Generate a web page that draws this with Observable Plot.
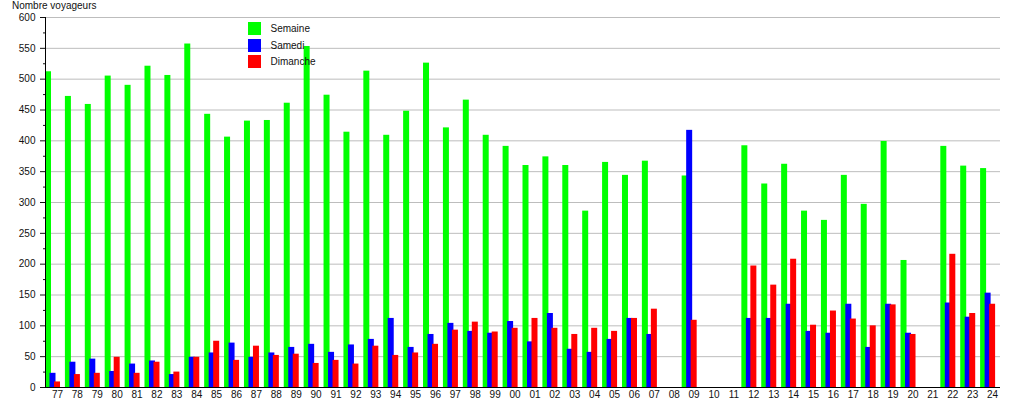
<!DOCTYPE html>
<html>
<head>
<meta charset="utf-8">
<script src="https://cdn.jsdelivr.net/npm/d3@7"></script>
<script src="https://cdn.jsdelivr.net/npm/@observablehq/plot@0.6"></script>
<style>
  body { margin: 0; background: #fff; }
  #wrap { position: relative; width: 1015px; height: 400px; font-family: "Liberation Sans", Arial, sans-serif; color: #111; }
  #title { position: absolute; left: 12px; top: 0px; font-size: 10px; }
  #legend { position: absolute; left: 248px; top: 22px; font-size: 10px; }
  .item { display: flex; align-items: center; height: 13px; margin-bottom: 3.7px; }
  .sw { width: 13px; height: 13px; margin-right: 9.5px; }
</style>
</head>
<body>
<div id="wrap">
  <div id="chart"></div>
  <div id="title">Nombre voyageurs</div>
  <div id="legend"></div>
</div>
<script>
const years = ["77","78","79","80","81","82","83","84","85","86","87","88","89","90","91","92","93","94","95","96","97","98","99",
  "00","01","02","03","04","05","06","07","08","09","10","11","12","13","14","15","16","17","18","19","20","21","22","23","24"];
const seriesNames = ["Semaine", "Samedi", "Dimanche"];
const seriesColors = ["#00ff00", "#0000ff", "#ff0000"];
const semaine = [512,472,459,505,490,521,506,557,443,406,432,433,461,553,474,414,513,409,448,526,421,466,409,
  391,360,374,360,286,365,344,367,null,343,null,null,392,330,362,286,271,344,297,399,206,null,391,359,355];
const samedi = [23,41,46,26,38,43,21,49,56,72,49,56,65,70,57,69,78,112,65,86,104,91,88,
  107,74,120,62,57,78,112,86,null,417,null,null,112,112,135,91,88,135,65,135,88,null,137,114,153];
const dimanche = [9,21,23,49,23,41,25,49,75,44,67,52,54,39,44,38,67,52,56,70,93,106,90,
  96,112,96,86,96,91,112,127,null,109,null,null,197,166,208,101,124,111,100,134,86,null,216,120,135];
const yTicks = [0,50,100,150,200,250,300,350,400,450,500,550,600];
const yMinorTicks = [25,75,125,175,225,275,325,375,425,475,525,575];

const seriesValues = [semaine, samedi, dimanche];
const rows = seriesValues.map((vals, s) =>
  years.map((year, i) => ({year, series: seriesNames[s], value: vals[i]})).filter(d => d.value != null));

const W = 1015, ML = 45, MR = 15;
const step = (W - ML - MR) / years.length;
const barW = 6;
const offsets = [0, 4.5, 9];

const plot = Plot.plot({
  width: W,
  height: 400,
  marginLeft: ML,
  marginRight: MR,
  marginTop: 17,
  marginBottom: 13,
  style: {fontFamily: "'Liberation Sans', Arial, sans-serif", fontSize: "10px", color: "#111", background: "#fff"},
  x: {domain: years, padding: 0, label: null},
  y: {domain: [0, 600], label: null},
  marks: [
    Plot.gridY(yTicks, {stroke: "#bdbdbd", strokeOpacity: 1}),
    ...rows.map((r, s) => Plot.barY(r, {
      x: "year", y: "value", fill: seriesColors[s],
      insetLeft: 0, insetRight: step - barW, dx: offsets[s]
    })),
    Plot.ruleY([0], {stroke: "#000"}),
    Plot.ruleX([years[0]], {y1: 0, y2: 600, dx: -step / 2, stroke: "#000"}),
    Plot.axisY(yTicks, {tickSize: 5, tickPadding: 5, label: null}),
    Plot.axisY(yMinorTicks, {tickSize: 2, tickFormat: () => "", label: null}),
    Plot.axisX({tickSize: 0, tickPadding: 3, dx: 2, label: null})
  ]
});
document.getElementById("chart").appendChild(plot);

const legend = d3.select("#legend");
seriesNames.forEach((name, s) => {
  const item = legend.append("div").attr("class", "item");
  item.append("div").attr("class", "sw").style("background", seriesColors[s]);
  item.append("span").text(name);
});
</script>
</body>
</html>
